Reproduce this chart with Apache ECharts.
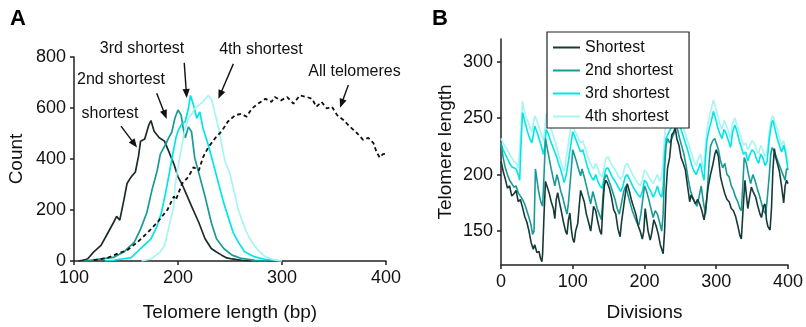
<!DOCTYPE html>
<html><head><meta charset="utf-8">
<script src="https://cdn.jsdelivr.net/npm/echarts@6/dist/echarts.min.js"></script>
<style>html,body{margin:0;padding:0;background:#fff}#c{width:806px;height:327px}</style>
</head><body><div id="c"></div>
<script>
// ---------- Panel A data: histogram curves [length bp, count] ----------
const histShortest = [[104,0],[108,3],[113,8],[119,36],[126,61],[132,106],[138,151],[141,175],[144,160],[148,240],[151,304],[155,330],[159,349],[162,410],[164,470],[168,478],[172,534],[174,551],[177,509],[182,483],[187,470],[191,431],[196,381],[200,330],[204,300],[207,272],[213,215],[220,151],[226,87],[232,49],[237,35],[242,23],[247,12],[252,8],[261,3],[270,0]];
const hist2nd = [[110,0],[126,8],[138,14],[148,36],[158,74],[164,125],[170,189],[175,279],[180,355],[183,419],[188,457],[191,483],[194,505],[197,560],[200,592],[203,572],[205,521],[207,483],[210,526],[213,507],[216,406],[221,330],[226,253],[229,202],[232,151],[237,87],[244,49],[252,23],[261,10],[274,3],[285,0]];
const hist3rd = [[130,0],[138,3],[155,13],[164,49],[174,87],[180,138],[184,189],[188,266],[191,330],[195,419],[198,483],[200,509],[203,534],[207,547],[210,598],[212,649],[215,611],[218,560],[221,585],[224,521],[229,457],[234,381],[239,304],[244,227],[248,176],[253,112],[258,74],[264,36],[274,16],[284,6],[293,3],[300,0]];
const hist4th = [[165,0],[174,8],[183,36],[187,61],[190,112],[193,164],[196,215],[197,290],[200,368],[204,457],[207,521],[210,560],[213,575],[216,598],[220,611],[224,624],[229,649],[232,636],[236,572],[239,521],[242,457],[245,394],[250,342],[255,253],[258,202],[261,164],[266,112],[271,74],[277,42],[284,16],[293,4],[300,0]];
const histAll = [[119,3],[132,12],[142,29],[151,42],[161,74],[171,112],[180,151],[190,202],[196,253],[198,240],[204,304],[210,330],[215,368],[220,355],[224,406],[229,445],[236,483],[242,509],[248,547],[255,572],[261,577],[266,566],[271,598],[277,617],[284,636],[290,624],[293,643],[299,630],[305,643],[311,617],[317,649],[324,643],[329,636],[333,605],[338,624],[343,598],[348,605],[353,572],[359,553],[365,528],[372,502],[378,475],[383,483],[388,462],[391,426],[394,406],[397,419],[400,421]];

// ---------- Panel B data: [divisions, telomere length] ----------
const divShortest = [[0,212],[3,203],[6,196],[9,188],[12,190],[15,181],[18,183],[21,186],[24,176],[27,178],[30,171],[33,163],[36,158],[39,150],[42,140],[45,134],[47,138],[50,131],[53,132],[55,126],[57,123],[58,130],[60,165],[62,194],[64,190],[67,184],[70,176],[73,170],[75,161],[77,178],[79,184],[81,177],[84,168],[87,158],[90,150],[92,147],[94,160],[96,166],[98,152],[100,143],[102,140],[104,150],[107,157],[109,172],[111,186],[113,182],[116,176],[119,165],[122,158],[125,150],[127,160],[129,172],[132,168],[135,158],[138,150],[140,147],[142,172],[144,190],[146,195],[148,193],[151,188],[154,180],[157,169],[160,165],[163,152],[166,145],[168,158],[171,172],[174,186],[176,192],[179,185],[182,177],[185,171],[188,165],[191,155],[194,150],[197,143],[199,150],[201,170],[203,160],[205,150],[208,142],[210,148],[213,160],[216,155],[219,148],[222,138],[224,134],[226,130],[228,150],[230,185],[232,205],[235,215],[238,235],[241,238],[243,241],[245,232],[248,226],[251,215],[254,210],[257,204],[260,190],[263,176],[265,182],[268,178],[271,174],[274,178],[277,174],[280,168],[283,160],[285,168],[287,180],[289,190],[292,200],[295,208],[298,218],[300,222],[303,216],[306,198],[309,190],[312,183],[315,178],[318,176],[321,170],[324,168],[327,163],[330,155],[333,146],[335,143],[337,165],[340,195],[342,182],[344,170],[347,182],[349,189],[352,184],[355,180],[358,172],[361,165],[363,162],[366,172],[368,174],[370,160],[372,154],[375,151],[377,170],[379,204],[381,223],[383,215],[386,208],[388,203],[391,190],[394,175],[396,190],[398,195],[400,192]];
const div2nd = [[0,228],[3,215],[6,206],[9,200],[12,195],[15,192],[18,189],[21,190],[24,184],[27,181],[30,178],[33,174],[36,168],[39,162],[42,155],[44,147],[46,150],[48,205],[50,196],[52,187],[54,180],[56,175],[58,172],[60,200],[62,232],[64,225],[67,215],[70,205],[73,196],[75,190],[78,200],[80,195],[83,186],[86,180],[89,172],[92,165],[94,175],[96,190],[98,205],[100,222],[102,218],[105,212],[108,205],[111,199],[113,205],[116,198],[119,190],[122,182],[125,174],[128,185],[131,178],[134,170],[137,165],[140,160],[142,180],[144,196],[147,200],[150,195],[153,190],[156,184],[159,178],[162,170],[165,165],[168,175],[171,185],[174,190],[177,182],[180,175],[183,168],[186,163],[189,158],[192,155],[195,165],[198,180],[200,190],[203,185],[206,178],[209,170],[212,162],[215,168],[218,165],[221,158],[224,150],[226,165],[228,205],[230,225],[232,232],[235,228],[238,232],[241,236],[243,245],[246,240],[249,232],[252,225],[255,218],[258,208],[261,196],[264,186],[267,180],[270,176],[273,172],[276,180],[279,190],[282,176],[285,165],[287,180],[290,210],[292,225],[295,230],[298,232],[300,228],[303,222],[306,212],[309,206],[312,210],[315,200],[318,198],[321,190],[324,186],[327,180],[330,176],[333,170],[335,168],[337,190],[339,215],[342,210],[345,200],[348,192],[351,200],[354,195],[357,188],[360,182],[363,175],[366,168],[369,165],[371,178],[374,200],[376,218],[378,224],[381,220],[384,215],[387,210],[390,205],[393,200],[396,195],[398,205],[400,205]];
const div3rd = [[0,228],[3,222],[6,218],[9,214],[12,210],[15,207],[18,206],[21,205],[24,200],[26,195],[28,228],[30,255],[32,250],[34,245],[37,238],[40,232],[43,228],[45,235],[47,243],[50,238],[53,232],[56,226],[59,218],[61,225],[63,240],[66,236],[69,230],[72,225],[75,220],[78,215],[80,210],[83,205],[86,198],[88,193],[91,200],[94,212],[97,225],[100,238],[102,235],[105,230],[108,225],[111,220],[114,222],[117,215],[120,208],[123,202],[126,198],[129,195],[132,200],[135,194],[138,190],[141,188],[143,195],[146,205],[149,206],[152,202],[155,198],[158,195],[161,192],[164,188],[167,185],[170,190],[173,198],[176,200],[179,196],[182,192],[185,188],[188,185],[191,182],[194,180],[197,185],[200,195],[203,193],[206,188],[209,185],[212,180],[215,184],[218,190],[221,183],[224,180],[226,190],[228,218],[230,232],[233,236],[236,240],[239,244],[242,248],[245,250],[248,247],[251,240],[254,234],[257,228],[260,222],[263,215],[266,208],[269,203],[272,200],[275,205],[278,210],[281,200],[283,195],[285,215],[287,230],[290,240],[293,247],[296,256],[299,250],[302,242],[305,236],[308,232],[311,240],[314,236],[317,230],[320,224],[323,238],[326,244],[329,238],[332,230],[335,224],[338,218],[341,220],[344,212],[347,218],[350,222],[353,220],[356,214],[359,210],[362,218],[365,215],[368,208],[371,212],[374,232],[377,245],[379,248],[382,240],[385,232],[388,226],[391,220],[394,226],[397,218],[400,204]];
const div4th = [[0,232],[3,228],[6,225],[9,222],[12,218],[15,215],[18,212],[21,210],[24,206],[26,205],[28,240],[30,265],[32,258],[34,252],[37,248],[40,242],[43,238],[45,245],[47,252],[50,248],[53,242],[56,236],[59,230],[61,240],[63,254],[66,248],[69,242],[72,236],[75,230],[78,224],[80,218],[83,212],[86,206],[88,203],[91,215],[94,228],[97,240],[100,244],[102,240],[105,236],[108,232],[111,228],[114,230],[117,224],[120,218],[123,212],[126,208],[129,205],[132,210],[135,205],[138,200],[141,198],[143,204],[146,214],[149,216],[152,212],[155,208],[158,205],[161,202],[164,198],[167,196],[170,200],[173,208],[176,210],[179,206],[182,202],[185,198],[188,195],[191,192],[194,190],[197,195],[200,204],[203,202],[206,198],[209,195],[212,192],[215,196],[218,200],[221,194],[224,198],[226,215],[228,235],[230,245],[233,250],[236,254],[239,258],[242,262],[245,258],[248,254],[251,248],[254,242],[257,236],[260,230],[263,224],[266,218],[269,212],[272,208],[275,214],[278,218],[281,208],[283,204],[285,225],[287,240],[290,250],[293,258],[296,266],[299,260],[302,252],[305,245],[308,240],[311,248],[314,244],[317,238],[320,232],[323,246],[326,250],[329,244],[332,238],[335,232],[338,226],[341,228],[344,222],[347,226],[350,230],[353,228],[356,222],[359,218],[362,226],[365,222],[368,216],[371,220],[374,238],[377,250],[379,252],[382,246],[385,240],[388,232],[391,226],[394,230],[397,222],[400,210]];

// ---------- Labels ----------
const seriesNames = ['Shortest', '2nd shortest', '3rd shortest', '4th shortest'];
const lengthTicks = [150, 200, 250, 300];

const COLORS = ['#163a3a', '#1a9a96', '#00e6e6', '#a6f4f4'];
const FONT = 'Liberation Sans, Arial, Helvetica, sans-serif';
const INK = '#111';

function axisBase() {
  return {
    axisLine: { lineStyle: { color: '#222', width: 1.5 } },
    axisTick: { show: true, length: 4, lineStyle: { color: '#222', width: 1.5 } },
    axisLabel: { fontSize: 18, color: INK, margin: 8, fontFamily: FONT },
    splitLine: { show: false },
    nameTextStyle: { fontSize: 19, color: INK, fontFamily: FONT }
  };
}

const chart = echarts.init(document.getElementById('c'), null, { renderer: 'canvas', width: 806, height: 327 });

const lineA = (name, data, color, extra) => Object.assign({
  name, type: 'line', xAxisIndex: 0, yAxisIndex: 0, data, symbol: 'none',
  lineStyle: { color, width: 1.7 }, itemStyle: { color }, silent: true
}, extra || {});
const lineB = (name, data, color, z) => ({
  name, type: 'line', xAxisIndex: 1, yAxisIndex: 1, data, symbol: 'none', z,
  lineStyle: { color, width: 1.6 }, itemStyle: { color }, silent: true
});

chart.setOption({
  animation: false,
  backgroundColor: '#fff',
  textStyle: { fontFamily: FONT },
  grid: [
    { left: 74, top: 57, width: 312, height: 209 },
    { left: 501, top: 39, width: 291, height: 226.5 }
  ],
  xAxis: [
    Object.assign(axisBase(), { gridIndex: 0, type: 'value', min: 100, max: 400, interval: 100,
      name: 'Telomere length (bp)', nameLocation: 'middle', nameGap: 42 }),
    Object.assign(axisBase(), { gridIndex: 1, type: 'value', min: 0, max: 400, interval: 100,
      name: 'Divisions', nameLocation: 'middle', nameGap: 38 })
  ],
  yAxis: [
    Object.assign(axisBase(), { gridIndex: 0, type: 'value', min: 0, max: 800, interval: 200,
      name: 'Count', nameLocation: 'middle', nameGap: 48 }),
    (function () {
      const a = axisBase();
      a.axisLabel.customValues = lengthTicks;
      a.axisTick.customValues = lengthTicks;
      return Object.assign(a, { gridIndex: 1, type: 'value', min: 120, max: 320,
        name: 'Telomere length', nameLocation: 'middle', nameGap: 46 });
    })()
  ],
  legend: {
    data: seriesNames,
    icon: 'rect',
    orient: 'vertical', left: 547, top: 32,
    itemWidth: 27, itemHeight: 2, itemGap: 4,
    padding: [6, 16, 2, 6],
    backgroundColor: '#fff', borderColor: '#222', borderWidth: 1.2, borderRadius: 0,
    selectedMode: false, z: 10,
    textStyle: { fontSize: 16, color: INK, fontFamily: FONT, lineHeight: 19 }
  },
  series: [
    lineA('A-shortest', histShortest, '#1c2c2c'),
    lineA('A-2nd', hist2nd, COLORS[1]),
    lineA('A-3rd', hist3rd, COLORS[2]),
    lineA('A-4th', hist4th, COLORS[3]),
    lineA('A-all', histAll, '#111', { lineStyle: { color: '#111', width: 1.8, type: [4, 3] } }),
    lineB(seriesNames[3], div4th, COLORS[3], 2),
    lineB(seriesNames[2], div3rd, COLORS[2], 3),
    lineB(seriesNames[1], div2nd, COLORS[1], 4),
    lineB(seriesNames[0], divShortest, COLORS[0], 5)
  ]
});

// ---------- Annotations (placed in panel A data space) ----------
const annotations = [
  { text: 'shortest', at: [134.6, 579], from: [145.2, 529], to: [160.6, 445] },
  { text: '2nd shortest', at: [145.2, 713], from: [179.5, 658], to: [189.1, 557] },
  { text: '3rd shortest', at: [165.4, 832], from: [206, 777], to: [208.4, 639] },
  { text: '4th shortest', at: [279.8, 828], from: [253.2, 773], to: [238.8, 636] },
  { text: 'All telomeres', at: [369.7, 743], from: [363.8, 690], to: [355.8, 601] }
];
const px = p => chart.convertToPixel({ gridIndex: 0 }, p);
const graphics = [
  { type: 'text', left: 10, top: 8, style: { text: 'A', font: 'bold 22px ' + FONT, fill: '#000' } },
  { type: 'text', left: 432, top: 8, style: { text: 'B', font: 'bold 22px ' + FONT, fill: '#000' } }
];
annotations.forEach(a => {
  const c = px(a.at), f = px(a.from), t = px(a.to);
  graphics.push({ type: 'text', x: c[0], y: c[1], style: { text: a.text, font: '16px ' + FONT, fill: INK, align: 'center', verticalAlign: 'middle' } });
  const dx = t[0] - f[0], dy = t[1] - f[1], L = Math.hypot(dx, dy), ux = dx / L, uy = dy / L;
  const hl = 9, hw = 3.6;
  const bx = t[0] - ux * hl, by = t[1] - uy * hl;
  graphics.push({ type: 'line', shape: { x1: f[0], y1: f[1], x2: bx + ux * 1, y2: by + uy * 1 }, style: { stroke: INK, lineWidth: 1.4 } });
  graphics.push({ type: 'polygon', shape: { points: [[t[0], t[1]], [bx - uy * hw, by + ux * hw], [bx + uy * hw, by - ux * hw]] }, style: { fill: INK } });
});
chart.setOption({ graphic: graphics });
</script>
</body></html>
